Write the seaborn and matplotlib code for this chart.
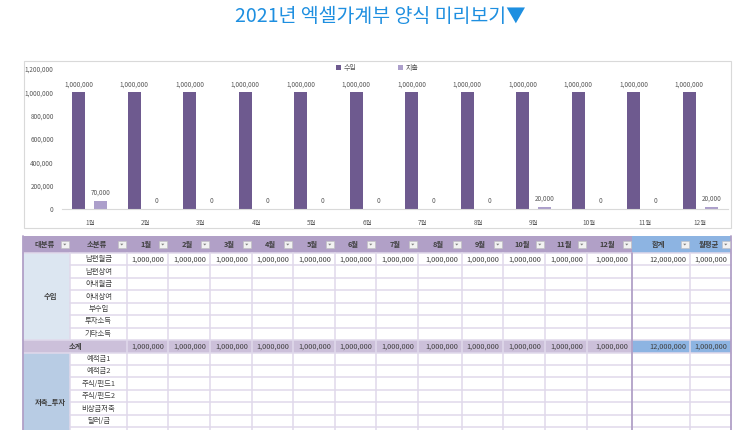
import numpy as np
import pandas as pd
import matplotlib
matplotlib.use("Agg")
import matplotlib.pyplot as plt
from matplotlib.patches import Rectangle, Polygon
import seaborn as sns

# ---------------- data ----------------
months = ["1월", "2월", "3월", "4월", "5월", "6월", "7월", "8월", "9월", "10월", "11월", "12월"]
series_names = ["수입", "지출"]
income = [1000000] * 12
expense = [70000, 0, 0, 0, 0, 0, 0, 0, 20000, 0, 0, 20000]
y_ticks = [0, 200000, 400000, 600000, 800000, 1000000, 1200000]

title_text = "2021년 엑셀가계부 양식 미리보기▼"

header_labels = ["대분류", "소분류"] + months + ["합계", "월평균"]
income_group = "수입"
income_items = ["남편월급", "남편상여", "아내월급", "아내상여", "부수입", "투자소득", "기타소득"]
income_values = {"남편월급": [1000000] * 12}
income_totals = {"남편월급": (12000000, 1000000)}
subtotal_label = "소계"
subtotal_values = [1000000] * 12
subtotal_total = (12000000, 1000000)
savings_group = "저축_투자"
savings_items = ["예적금1", "예적금2", "주식/펀드1", "주식/펀드2", "비상금저축", "달러/금"]

# ---------------- style ----------------
sns.set_theme(style="white")
plt.rcParams["font.family"] = ["Noto Sans CJK KR", "DejaVu Sans"]

C_INC = "#6E5A8F"
C_EXP = "#AC9FCB"
TXT = "#595959"

W, H = 743, 430
fig = plt.figure(figsize=(W / 100, H / 100), dpi=100)

def fx(px):
    return px / W

def fy(py):
    return 1 - py / H

# title
fig.text(fx(380), fy(17), title_text, ha="center", va="center",
         fontsize=14, color="#1E8FE0", fontweight="medium")

# chart frame
frame = Rectangle((fx(24), fy(228)), fx(731) - fx(24), fy(61) - fy(228),
                  transform=fig.transFigure, fill=False, edgecolor="#D9D9D9", lw=0.8)
fig.patches.append(frame)

# ---------------- bar chart ----------------
ax = fig.add_axes([fx(62), fy(209), fx(728) - fx(62), fy(69) - fy(209)])
df = pd.DataFrame({
    "month": months * 2,
    "type": [series_names[0]] * 12 + [series_names[1]] * 12,
    "value": income + expense,
})
sns.barplot(data=df, x="month", y="value", hue="type", order=months,
            hue_order=series_names, palette=[C_INC, C_EXP],
            width=0.79, gap=0.4, errorbar=None, ax=ax, saturation=1, linewidth=0)
ax.set_ylim(0, 1200000)
ax.set_xlim(-0.5, 11.5)
ax.set_yticks(y_ticks)
ax.set_yticklabels([f"{v:,}" for v in y_ticks])
ax.set_xlabel("")
ax.set_ylabel("")
ax.tick_params(axis="both", length=0, labelsize=4.6, labelcolor=TXT)
ax.tick_params(axis="x", pad=7.5)
ax.tick_params(axis="y", pad=6)
for s in ["top", "right", "left"]:
    ax.spines[s].set_visible(False)
ax.spines["bottom"].set_color("#D9D9D9")
ax.spines["bottom"].set_linewidth(0.8)
ax.patch.set_alpha(0)
for cont in ax.containers:
    ax.bar_label(cont, labels=[f"{int(b.get_height()):,}" for b in cont],
                 padding=3, fontsize=4.6, color=TXT)
handles, labels = ax.get_legend_handles_labels()
if ax.get_legend() is not None:
    ax.get_legend().remove()
fig.legend(handles, labels, loc="center", bbox_to_anchor=(fx(377), fy(68)),
           ncol=2, frameon=False, fontsize=5, handlelength=0.8, handleheight=0.8,
           handletextpad=0.3, columnspacing=6.0, labelcolor=TXT)

# ---------------- table ----------------
tab = fig.add_axes([0, 0, 1, 1])
tab.set_xlim(0, W)
tab.set_ylim(H, 0)
tab.axis("off")

col_edges = [23, 70, 127, 168, 210, 252, 293, 335, 376, 418, 462, 503, 545, 587, 632, 690, 731]
hdr_top, hdr_bot = 236, 253
row_h = 12.45
n_inc = len(income_items)
inc_top = hdr_bot
sub_top = inc_top + n_inc * row_h
sub_bot = sub_top + row_h
sav_top = sub_bot
sav_span = 8  # merged group cell continues below the visible area
sav_bot = sav_top + sav_span * row_h

HDR_P = "#B1A0C7"
HDR_B = "#8DB4E2"
SUB_P = "#CCC0DA"
INC_G = "#DCE6F1"
SAV_G = "#B8CCE4"
GRID = "#E0D9EB"
TTXT = "#404040"

def rect(x0, y0, x1, y1, color):
    tab.add_patch(Rectangle((x0, y0), x1 - x0, y1 - y0, facecolor=color, edgecolor="none", zorder=1))

# fills
rect(col_edges[0], hdr_top, col_edges[14], hdr_bot, HDR_P)
rect(col_edges[14], hdr_top, col_edges[16], hdr_bot, HDR_B)
rect(col_edges[0], inc_top, col_edges[1], sub_top, INC_G)
rect(col_edges[0], sub_top, col_edges[14], sub_bot, SUB_P)
rect(col_edges[14], sub_top, col_edges[16], sub_bot, HDR_B)
rect(col_edges[0], sav_top, col_edges[1], sav_bot, SAV_G)

# horizontal lines
lw_grid = 1.1
for i in range(1, n_inc):
    y = inc_top + i * row_h
    tab.plot([col_edges[1], col_edges[16]], [y, y], color=GRID, lw=lw_grid, zorder=2)
for i in range(1, sav_span + 1):
    y = sav_top + i * row_h
    tab.plot([col_edges[1], col_edges[16]], [y, y], color=GRID, lw=lw_grid, zorder=2)
for y in [hdr_bot, sub_top, sub_bot]:
    tab.plot([col_edges[0], col_edges[16]], [y, y], color=GRID, lw=lw_grid, zorder=2)

# vertical lines
for j in range(2, 16):
    if j == 14:
        continue
    tab.plot([col_edges[j], col_edges[j]], [hdr_bot, sav_bot], color=GRID, lw=lw_grid, zorder=2)
tab.plot([col_edges[1]] * 2, [inc_top, sub_top], color=GRID, lw=lw_grid, zorder=2)
tab.plot([col_edges[1]] * 2, [sav_top, sav_bot], color=GRID, lw=lw_grid, zorder=2)
for x in [col_edges[0], col_edges[14], col_edges[16]]:
    tab.plot([x, x], [hdr_top if x != col_edges[14] else hdr_bot, sav_bot],
             color=HDR_P, lw=1.3, zorder=3)

# header labels & dropdown buttons
for j, lab in enumerate(header_labels):
    x0, x1 = col_edges[j], col_edges[j + 1]
    tab.text((x0 + x1) / 2 - 2, (hdr_top + hdr_bot) / 2, lab, ha="center", va="center",
             fontsize=5.3, fontweight="bold", color=TTXT, zorder=4)
    bx1 = x1 - 1.5
    bx0 = bx1 - 7.5
    by0 = (hdr_top + hdr_bot) / 2 - 3.5
    tab.add_patch(Rectangle((bx0, by0), 7.5, 7, facecolor="#F2F2F2",
                            edgecolor="#BFBFBF", lw=0.4, zorder=4))
    cx, cy = (bx0 + bx1) / 2, by0 + 3.5
    tab.add_patch(Polygon([[cx - 1.6, cy - 0.8], [cx + 1.6, cy - 0.8], [cx, cy + 1.0]],
                          closed=True, facecolor="#7F7F7F", edgecolor="none", zorder=5))

def num_right(j, y, val):
    tab.text(col_edges[j + 1] - 4, y, f"{val:,}", ha="right", va="center",
             fontsize=5.3, color=TTXT, zorder=4)

# income rows
for i, item in enumerate(income_items):
    yc = inc_top + (i + 0.5) * row_h
    tab.text((col_edges[1] + col_edges[2]) / 2, yc, item, ha="center", va="center",
             fontsize=5.3, color=TTXT, zorder=4)
    if item in income_values:
        for m, v in enumerate(income_values[item]):
            num_right(2 + m, yc, v)
        tot, avg = income_totals[item]
        num_right(14, yc, tot)
        num_right(15, yc, avg)
tab.text((col_edges[0] + col_edges[1]) / 2 + 4, (inc_top + sub_top) / 2, income_group,
         ha="center", va="center", fontsize=5.3, fontweight="bold", color=TTXT, zorder=4)

# subtotal row
yc = (sub_top + sub_bot) / 2
tab.text((col_edges[0] + col_edges[2]) / 2, yc, subtotal_label, ha="center", va="center",
         fontsize=5.3, fontweight="bold", color=TTXT, zorder=4)
for m, v in enumerate(subtotal_values):
    num_right(2 + m, yc, v)
num_right(14, yc, subtotal_total[0])
num_right(15, yc, subtotal_total[1])

# savings rows
for i, item in enumerate(savings_items):
    yc = sav_top + (i + 0.5) * row_h
    tab.text((col_edges[1] + col_edges[2]) / 2, yc, item, ha="center", va="center",
             fontsize=5.3, color=TTXT, zorder=4)
tab.text((col_edges[0] + col_edges[1]) / 2 + 4, (sav_top + sav_bot) / 2, savings_group,
         ha="center", va="center", fontsize=5.3, fontweight="bold", color=TTXT, zorder=4)

fig.savefig("out.png", dpi=100)
